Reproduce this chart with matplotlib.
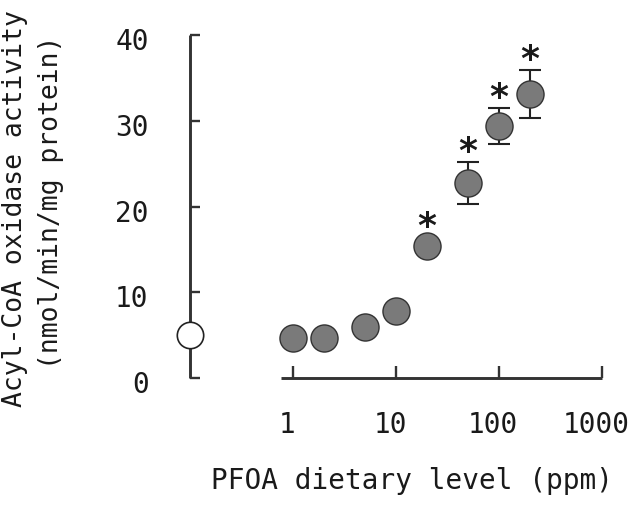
import numpy as np
import matplotlib
matplotlib.use("Agg")
import matplotlib.pyplot as plt
import matplotlib.transforms as mtransforms

# ---- data ----
doses = [1, 2, 5, 10, 20, 50, 100, 200]              # ppm
activity = [4.65, 4.65, 6.0, 7.9, 15.4, 22.7, 29.4, 33.1]
sem = [0, 0, 0, 0, 0, 2.45, 2.1, 2.8]
significant = [False, False, False, False, True, True, True, True]
control_value = 5.1
yticks = [0, 10, 20, 30, 40]
xticks = [1, 10, 100, 1000]
xticklabels = ["1", "10", "100", "1000"]

# ---- layout / style ----
W, H, DPI = 634, 512, 100
CONTROL_X = 0.1       # y-axis spine sits at this x (log scale)
FONT = "DejaVu Sans Mono"
axis_color = "#333333"
text_color = "#1a1a1a"

fig = plt.figure(figsize=(W / DPI, H / DPI), dpi=DPI)
ax = fig.add_axes([149.3 / W, 1 - 391.2 / H, 471 / W, 373.4 / H])
ax.set_xscale("log")
ax.set_xlim(0.04, 1500)
ax.set_ylim(-1.5, 42)

for s in ("top", "right"):
    ax.spines[s].set_visible(False)
ax.spines["left"].set_position(("data", CONTROL_X))
ax.spines["left"].set_bounds(0, 40)
ax.spines["bottom"].set_position(("data", 0))
ax.spines["bottom"].set_bounds(0.76, 1000)
for s in ("left", "bottom"):
    ax.spines[s].set_linewidth(2.1)
    ax.spines[s].set_color(axis_color)
    ax.spines[s].set_capstyle("butt")

ax.set_yticks(yticks)
ax.set_yticklabels([str(v) for v in yticks])
ax.set_xticks(xticks)
ax.set_xticklabels(xticklabels)
ax.xaxis.set_minor_locator(matplotlib.ticker.NullLocator())
ax.tick_params(axis="y", direction="in", length=7.5, width=1.7, color=axis_color,
               pad=30, labelsize=20, labelcolor=text_color)
ax.tick_params(axis="x", direction="in", length=8.6, width=1.7, color=axis_color,
               pad=23.7, labelsize=20, labelcolor=text_color)
for lab in ax.get_xticklabels() + ax.get_yticklabels():
    lab.set_fontfamily(FONT)

# small label nudges seen in the reference
ydown = mtransforms.ScaledTranslation(0, -4 / DPI, fig.dpi_scale_trans)
xleft = mtransforms.ScaledTranslation(-6 / DPI, 0, fig.dpi_scale_trans)
for lab in ax.get_yticklabels():
    lab.set_transform(lab.get_transform() + ydown)
for lab in ax.get_xticklabels():
    lab.set_transform(lab.get_transform() + xleft)

# error bars (behind markers)
ax.errorbar(doses, activity, yerr=sem, fmt="none", ecolor="#222222",
            elinewidth=1.5, capsize=8, capthick=1.5, zorder=3)
# treated groups
ax.plot(doses, activity, linestyle="none", marker="o", markersize=19.5,
        markerfacecolor="#7a7a7a", markeredgecolor="#333333",
        markeredgewidth=1.0, zorder=4, clip_on=False)
# control
ax.plot([CONTROL_X], [control_value], linestyle="none", marker="o",
        markersize=19, markerfacecolor="white", markeredgecolor="#222222",
        markeredgewidth=1.2, zorder=5, clip_on=False)

# significance asterisks
for d, a, e, sig in zip(doses, activity, sem, significant):
    if not sig:
        continue
    top = a + e
    off = 6.5 if e == 0 else 0
    ax.annotate("*", xy=(d, top), xytext=(0, off), textcoords="offset points",
                ha="center", va="baseline", fontsize=26, fontweight="bold",
                color=text_color, fontfamily="DejaVu Sans")

# axis titles
fig.text(412 / W, 1 - 481 / H, "PFOA dietary level (ppm)", ha="center", va="center",
         fontsize=20, fontfamily=FONT, color=text_color)
fig.text(15 / W, 1 - 209 / H, "Acyl-CoA oxidase activity", rotation=90,
         ha="center", va="center", fontsize=19, fontfamily=FONT, color=text_color)
fig.text(51 / W, 1 - 202 / H, "(nmol/min/mg protein)", rotation=90,
         ha="center", va="center", fontsize=19, fontfamily=FONT, color=text_color)

fig.savefig("out.png", dpi=DPI)
